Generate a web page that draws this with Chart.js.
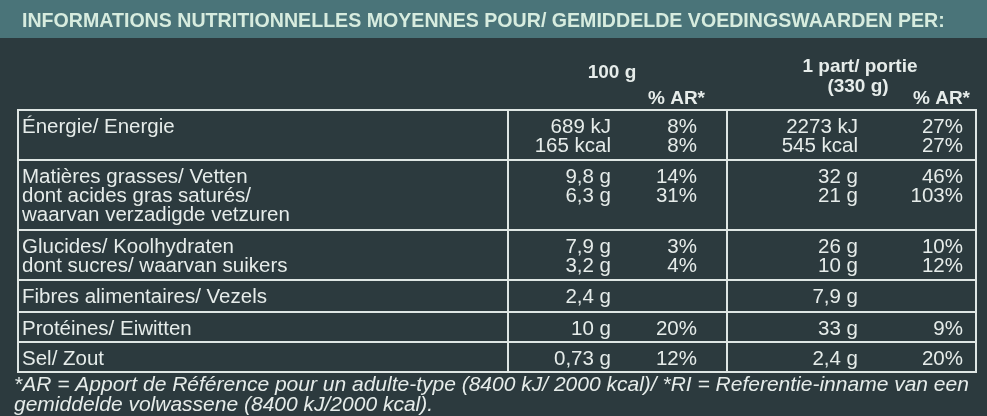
<!DOCTYPE html>
<html>
<head>
<meta charset="utf-8">
<script src="https://cdn.jsdelivr.net/npm/chart.js@4/dist/chart.umd.min.js"></script>
<style>
html, body { margin: 0; padding: 0; background: #2c3a3e; }
#wrap { width: 987px; height: 416px; }
</style>
</head>
<body>
<div id="wrap"><canvas id="c" width="987" height="416"></canvas></div>
<script>
// table data
var title = 'INFORMATIONS NUTRITIONNELLES MOYENNES POUR/ GEMIDDELDE VOEDINGSWAARDEN PER:';
var labels = [
    ['Énergie/ Energie', ''],
    ['Matières grasses/ Vetten', 'dont acides gras saturés/', 'waarvan verzadigde vetzuren'],
    ['Glucides/ Koolhydraten', 'dont sucres/ waarvan suikers'],
    ['Fibres alimentaires/ Vezels'],
    ['Protéines/ Eiwitten'],
    ['Sel/ Zout']
];
var per100 = [['689 kJ', '165 kcal'], ['9,8 g', '6,3 g'], ['7,9 g', '3,2 g'], ['2,4 g'], ['10 g'], ['0,73 g']];
var ar100 = [['8%', '8%'], ['14%', '31%'], ['3%', '4%'], [''], ['20%'], ['12%']];
var perPortion = [['2273 kJ', '545 kcal'], ['32 g', '21 g'], ['26 g', '10 g'], ['7,9 g'], ['33 g'], ['2,4 g']];
var arPortion = [['27%', '27%'], ['46%', '103%'], ['10%', '12%'], [''], ['9%'], ['20%']];
var footer = ['*AR = Apport de Référence pour un adulte-type (8400 kJ/ 2000 kcal)/ *RI = Referentie-inname van een',
              'gemiddelde volwassene (8400 kJ/2000 kcal).'];

// layout (scale units = page pixels)
var rowTop = [110, 160, 230, 280, 312, 342, 372];
var lineH = 19;

var tablePlugin = {
    id: 'table',
    afterDraw: function (chart) {
        var ctx = chart.ctx;
        var xs = chart.scales.x, ys = chart.scales.y;
        function X(v) { return xs.getPixelForValue(v); }
        function Y(v) { return ys.getPixelForValue(v); }
        var fg = '#e6ecea';
        ctx.save();
        // header band
        ctx.fillStyle = '#4a7479';
        ctx.fillRect(X(0), Y(0), X(987) - X(0), Y(38) - Y(0));
        ctx.fillStyle = '#d7ecdf';
        ctx.font = 'bold 19.6px "Liberation Sans", Arial, sans-serif';
        ctx.textBaseline = 'alphabetic';
        ctx.fillText(title, X(22), Y(27));

        ctx.fillStyle = fg;
        ctx.font = 'bold 19px "Liberation Sans", Arial, sans-serif';
        ctx.textAlign = 'center';
        ctx.fillText('100 g', X(612), Y(78));
        ctx.fillText('1 part/ portie', X(860), Y(72));
        ctx.fillText('(330 g)', X(858), Y(92));
        ctx.textAlign = 'right';
        ctx.fillText('% AR*', X(705), Y(104));
        ctx.fillText('% AR*', X(970), Y(104));

        // grid
        ctx.strokeStyle = '#dfe6e4';
        ctx.lineWidth = 2;
        ctx.strokeRect(X(18), Y(110), X(976) - X(18), Y(372) - Y(110));
        ctx.beginPath();
        for (var i = 1; i < rowTop.length - 1; i++) {
            ctx.moveTo(X(18), Y(rowTop[i])); ctx.lineTo(X(976), Y(rowTop[i]));
        }
        ctx.moveTo(X(508), Y(110)); ctx.lineTo(X(508), Y(372));
        ctx.moveTo(X(727), Y(110)); ctx.lineTo(X(727), Y(372));
        ctx.stroke();

        ctx.font = '20.5px "Liberation Sans", Arial, sans-serif';
        for (var r = 0; r < labels.length; r++) {
            var base = rowTop[r] + 23;
            for (var k = 0; k < labels[r].length; k++) {
                var y = Y(base + k * lineH);
                ctx.textAlign = 'left';
                ctx.fillText(labels[r][k], X(22), y);
                ctx.textAlign = 'right';
                if (per100[r][k] !== undefined) ctx.fillText(per100[r][k], X(611), y);
                if (ar100[r][k] !== undefined) ctx.fillText(ar100[r][k], X(697), y);
                if (perPortion[r][k] !== undefined) ctx.fillText(perPortion[r][k], X(858), y);
                if (arPortion[r][k] !== undefined) ctx.fillText(arPortion[r][k], X(963), y);
            }
        }
        ctx.textAlign = 'left';
        ctx.font = 'italic 21px "Liberation Sans", Arial, sans-serif';
        ctx.fillText(footer[0], X(14), Y(391));
        ctx.fillText(footer[1], X(14), Y(411));
        ctx.restore();
    }
};

var ctx = document.getElementById('c').getContext('2d');
var chart = new Chart(ctx, {
    type: 'scatter',
    data: { datasets: [{ data: [], pointRadius: 0 }] },
    options: {
        animation: false,
        responsive: false,
        layout: { padding: 0 },
        plugins: { legend: { display: false }, tooltip: { enabled: false } },
        scales: {
            x: { type: 'linear', min: 0, max: 987, display: false },
            y: { type: 'linear', min: 0, max: 416, reverse: true, display: false }
        }
    },
    plugins: [tablePlugin]
});
</script>
</body>
</html>
